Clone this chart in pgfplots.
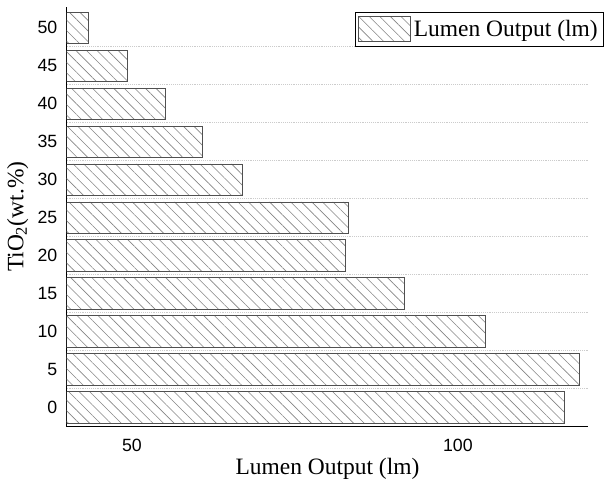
\documentclass[border=0pt]{standalone}
\usepackage{fontspec}
\setmainfont{Liberation Serif}
\newfontfamily\arialfont{Liberation Sans}
\usepackage{pgfplots}
\pgfplotsset{compat=1.18}
\usetikzlibrary{patterns.meta,calc}
\definecolor{barline}{HTML}{505050}
\definecolor{hatch}{HTML}{858585}
\begin{document}
\begin{tikzpicture}
\begin{axis}[
  scale only axis, width=391.2pt, height=314.8pt,
  xbar, bar width=0.83,
  xmin=40, xmax=120, ymin=-0.5, ymax=10.55,
  xtick={50,100}, ytick={0,1,2,3,4,5,6,7,8,9,10},
  yticklabels={0,5,10,15,20,25,30,35,40,45,50},
  minor ytick={0.5,1.5,2.5,3.5,4.5,5.5,6.5,7.5,8.5,9.5},
  yminorgrids, minor grid style={densely dotted, gray!40, line width=0.6pt},
  minor tick length=0pt, major tick length=0pt,
  axis x line*=bottom, axis y line*=left,
  axis line style={-, black, line width=0.8pt},
  /pgf/number format/assume math mode=true,
  ticklabel style={font=\arialfont\fontsize{13.3}{15}\selectfont},
  xticklabel style={yshift=-5.5pt},
  yticklabel style={xshift=-3.5pt},
  xlabel={Lumen Output (lm)}, ylabel={TiO\textsubscript{2}(wt.\%)},
  xlabel style={yshift=1.5pt},
  label style={font=\fontsize{17.6}{20}\selectfont},
  legend style={at={(axis description cs:1.029,0.988)}, anchor=north east,
    draw=black, line width=0.6pt, font=\fontsize{17.6}{20}\selectfont,
    inner xsep=2pt, inner ysep=2.8pt},
  legend image code/.code={\draw[#1] (0pt,-9.5pt) rectangle (39pt,9.5pt);},
]
\addplot[draw=barline, line width=0.7pt,
  pattern={Lines[angle=-45,distance=5.6pt,line width=0.45pt]}, pattern color=hatch]
  coordinates {(116.3,0) (118.6,1) (104.3,2) (91.8,3) (82.7,4) (83.2,5)
               (67.0,6) (60.8,7) (55.2,8) (49.4,9) (43.3,10)};
\addlegendentry{Lumen Output (lm)}
\coordinate (O) at (rel axis cs:0,0);
\end{axis}
\pgfresetboundingbox
\path[use as bounding box] ($(O)+(-50pt,-49pt)$) rectangle ++(456pt,369pt);
\end{tikzpicture}
\end{document}
